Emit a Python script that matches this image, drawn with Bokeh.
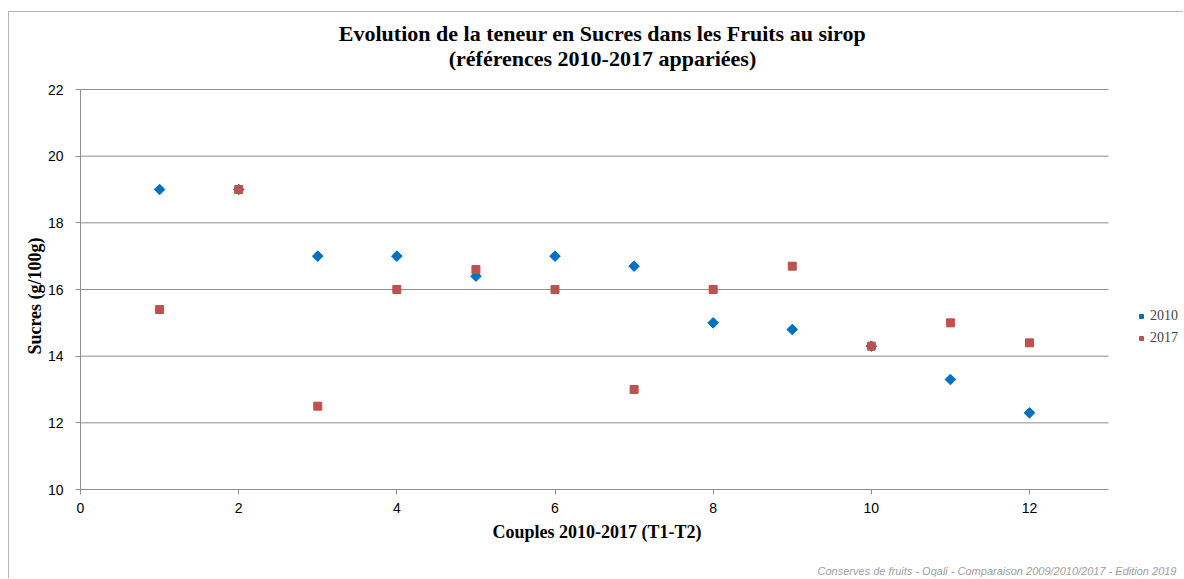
import math
from bokeh.plotting import figure
from bokeh.models import Range1d, FixedTicker, Legend, LegendItem, Label
from bokeh.embed import file_html
from bokeh.resources import INLINE

couples = [1, 2, 3, 4, 5, 6, 7, 8, 9, 10, 11, 12]
sucres_2010 = [19.0, 19.0, 17.0, 17.0, 16.4, 17.0, 16.7, 15.0, 14.8, 14.3, 13.3, 12.3]
sucres_2017 = [15.4, 19.0, 12.5, 16.0, 16.6, 16.0, 13.0, 16.0, 16.7, 14.3, 15.0, 14.4]
x_ticks = [0, 2, 4, 6, 8, 10, 12]
y_ticks = [10, 12, 14, 16, 18, 20, 22]
x_min, x_max = 0, 13
y_min, y_max = 10, 22

title_1 = "Evolution de la teneur en Sucres dans les Fruits au sirop"
title_2 = "(références 2010-2017 appariées)"
x_label = "Couples 2010-2017 (T1-T2)"
y_label = "Sucres (g/100g)"
footer_text = "Conserves de fruits - Oqali - Comparaison 2009/2010/2017  - Edition 2019"

SERIF = "Liberation Serif"
SANS = "Liberation Sans"
GRID = "#8e8e8e"

# The frame covers the whole canvas; the axes box (0-13 x 10-22) sits inside it so that
# titles, legend and footer can be placed around the axes box.
p = figure(width=1175, height=567, output_backend="svg", toolbar_location=None,
           x_range=Range1d(-0.898, 13.96), y_range=Range1d(7.3, 24.31), title=None,
           min_border_left=0, min_border_top=0, min_border_right=0, min_border_bottom=0)
p.styles = {"margin-left": "8px", "margin-top": "11px",
            "border-left": "1px solid #b5b5b5", "border-top": "1px solid #b5b5b5"}
p.outline_line_color = None
p.background_fill_color = "white"
p.border_fill_color = "white"
p.xgrid.grid_line_color = None
p.ygrid.grid_line_color = None

# horizontal gridlines and the vertical axis line, limited to the axes box
p.segment(x0=x_min, x1=x_max, y0=y_ticks, y1=y_ticks, line_color=GRID, line_width=1)
p.segment(x0=x_min, x1=x_min, y0=y_min, y1=y_max, line_color=GRID, line_width=1)

r1 = p.scatter(couples, sucres_2010, marker="square", angle=math.pi / 4, size=7.5,
               fill_color="#0070C0", line_color="#0070C0")
r2 = p.scatter(couples, sucres_2017, marker="square", size=8, fill_color="#C0504D",
               line_color="#C0504D")

p.xaxis.ticker = FixedTicker(ticks=x_ticks)
p.yaxis.ticker = FixedTicker(ticks=y_ticks)
p.xaxis.fixed_location = y_min
p.yaxis.fixed_location = x_min

for ax in (p.xaxis, p.yaxis):
    ax.axis_line_color = None
    ax.major_tick_line_color = GRID
    ax.minor_tick_line_color = None
    ax.major_tick_in = 0
    ax.major_tick_out = 5
    ax.major_label_text_font = SANS
    ax.major_label_text_font_size = "14px"
    ax.major_label_text_color = "black"
    ax.axis_label_text_font = SERIF
    ax.axis_label_text_font_size = "18px"
    ax.axis_label_text_font_style = "bold"
    ax.axis_label_text_color = "black"

p.xaxis.axis_label = x_label
p.yaxis.axis_label = y_label
p.xaxis.major_label_standoff = 8
p.xaxis.axis_label_standoff = 6
p.yaxis.major_label_standoff = 12
p.yaxis.axis_label_standoff = 0

title_style = dict(text_font=SERIF, text_font_size="22px", text_font_style="bold",
                   text_color="black", text_align="center", text_baseline="middle")
p.add_layout(Label(x=6.60, y=23.68, text=title_1, **title_style))
p.add_layout(Label(x=6.60, y=22.93, text=title_2, **title_style))

p.add_layout(Label(x=9.32, y=7.57, text=footer_text, text_font=SANS, text_font_size="11px",
                   text_font_style="italic", text_color="#a0a0a0", text_baseline="middle"))

legend = Legend(items=[LegendItem(label="2010", renderers=[r1]),
                       LegendItem(label="2017", renderers=[r2])],
                location=(1127, 232), border_line_color=None, background_fill_alpha=0,
                label_text_font=SERIF, label_text_font_size="14px", padding=0, margin=0,
                spacing=4, glyph_width=10, glyph_height=18, label_standoff=4,
                label_height=18)
p.add_layout(legend, "center")

open("out.html", "w").write(file_html(p, INLINE))
